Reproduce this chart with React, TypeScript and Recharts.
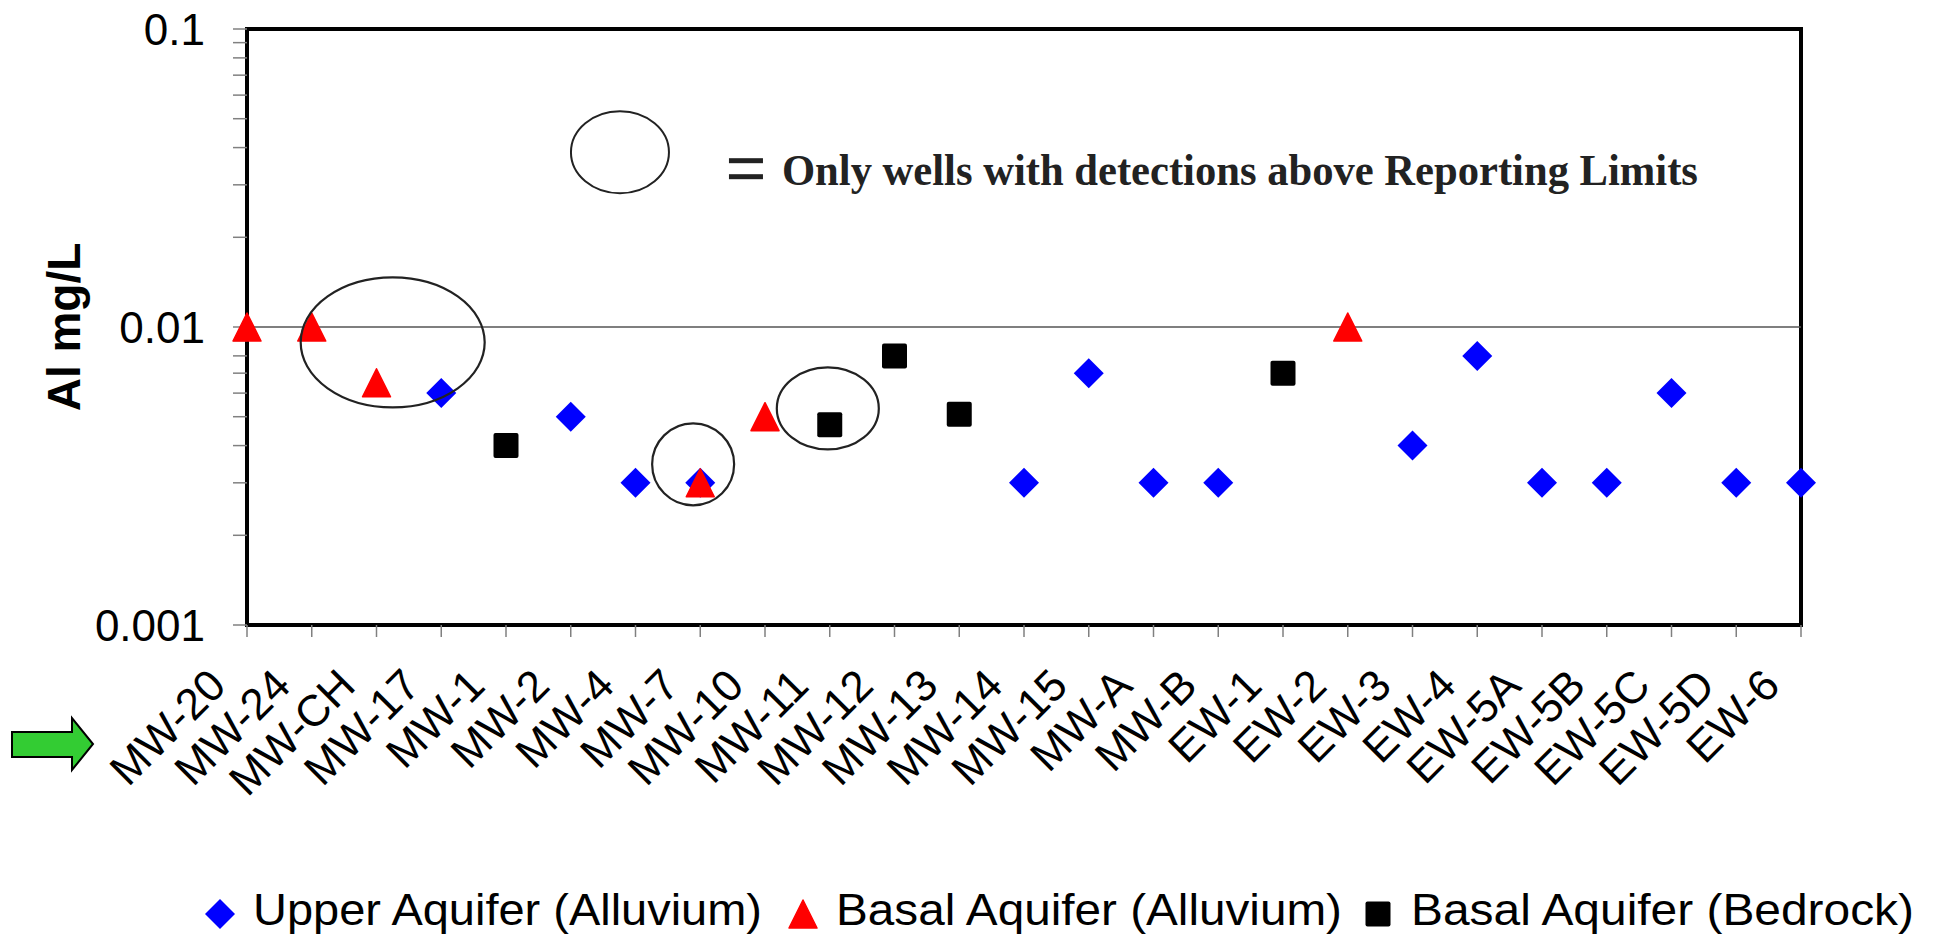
import React from "react";
import {
  ReferenceArea,
  ReferenceDot,
  ReferenceLine,
  Scatter,
  ScatterChart,
  XAxis,
  YAxis,
} from "recharts";

const WELLS = [
  "MW-20", "MW-24", "MW-CH", "MW-17", "MW-1", "MW-2", "MW-4", "MW-7", "MW-10",
  "MW-11", "MW-12", "MW-13", "MW-14", "MW-15", "MW-A", "MW-B", "EW-1", "EW-2",
  "EW-3", "EW-4", "EW-5A", "EW-5B", "EW-5C", "EW-5D", "EW-6",
];

const UPPER_WELLS = [
  "MW-17", "MW-2", "MW-4", "MW-7", "MW-14", "MW-15", "MW-A", "MW-B",
  "EW-3", "EW-4", "EW-5A", "EW-5B", "EW-5C", "EW-5D", "EW-6",
];
const UPPER_VALUES = [
  0.006, 0.005, 0.003, 0.003, 0.003, 0.007, 0.003, 0.003,
  0.004, 0.008, 0.003, 0.003, 0.006, 0.003, 0.003,
];

const BASAL_ALLUVIUM_WELLS = ["MW-20", "MW-24", "MW-CH", "MW-7", "MW-10", "EW-2"];
const BASAL_ALLUVIUM_VALUES = [0.01, 0.01, 0.0065, 0.003, 0.005, 0.01];

const BEDROCK_WELLS = ["MW-1", "MW-11", "MW-12", "MW-13", "EW-1"];
const BEDROCK_VALUES = [0.004, 0.0047, 0.008, 0.0051, 0.007];

const Y_MAJOR = [0.001, 0.01, 0.1];
const Y_TICKS = [
  0.001, 0.002, 0.003, 0.004, 0.005, 0.006, 0.007, 0.008, 0.009,
  0.01, 0.02, 0.03, 0.04, 0.05, 0.06, 0.07, 0.08, 0.09, 0.1,
];

// circled groups: [x (well index), y (mg/L), rx, ry]
const CIRCLES: [number, number, number, number][] = [
  [2.25, 0.00888, 92, 65],
  [6.89, 0.00346, 41, 41],
  [8.97, 0.00533, 51, 41],
];
const NOTE_CIRCLE: [number, number] = [5.76, 0.0386];
const NOTE_TEXT = "Only wells with detections above Reporting Limits";

const SANS = "'Liberation Sans', Arial, sans-serif";
const SERIF = "'Liberation Serif', 'Times New Roman', serif";

function toPoints(wells: string[], values: number[]) {
  return wells.map((w, i) => ({ idx: WELLS.indexOf(w), value: values[i], well: w }));
}

const upperData = toPoints(UPPER_WELLS, UPPER_VALUES);
const basalData = toPoints(BASAL_ALLUVIUM_WELLS, BASAL_ALLUVIUM_VALUES);
const bedrockData = toPoints(BEDROCK_WELLS, BEDROCK_VALUES);

function Diamond({ cx, cy }: any) {
  const h = 15;
  return <path d={`M${cx},${cy - h}L${cx + h},${cy}L${cx},${cy + h}L${cx - h},${cy}Z`} fill="#0000FF" />;
}

function Triangle({ cx, cy }: any) {
  const h = 14;
  return (
    <path
      d={`M${cx},${cy - h}L${cx + h},${cy + h}L${cx - h},${cy + h}Z`}
      fill="#FF0000"
      stroke="#FF0000"
      strokeWidth={1.5}
      strokeLinejoin="round"
    />
  );
}

function Square({ cx, cy }: any) {
  return <rect x={cx - 12.5} y={cy - 12.5} width={25} height={25} rx={2} fill="#000" />;
}

function XTick({ x, y, payload }: any) {
  return (
    <g transform={`translate(${x - 19},${y + 49})`}>
      <text transform="rotate(-45)" textAnchor="end" fontFamily={SANS} fontSize={44} fill="#000">
        {WELLS[payload.value]}
      </text>
    </g>
  );
}

function YTick({ x, y, payload }: any) {
  if (!Y_MAJOR.includes(payload.value)) return <g />;
  return (
    <text x={x} y={y} dy="0.36em" textAnchor="end" fontFamily={SANS} fontSize={44} fill="#000">
      {String(payload.value)}
    </text>
  );
}

function YLabel({ viewBox }: any) {
  const cy = viewBox.y + viewBox.height / 2;
  const bx = viewBox.x + 80;
  return (
    <text
      x={bx}
      y={cy}
      transform={`rotate(-90, ${bx}, ${cy})`}
      textAnchor="middle"
      fontFamily={SANS}
      fontWeight="bold"
      fontSize={46}
      fill="#000"
    >
      Al mg/L
    </text>
  );
}

function LegendMarker({ kind, cx, cy }: { kind: string; cx: number; cy: number }) {
  if (kind === "diamond") return <Diamond cx={cx} cy={cy} />;
  if (kind === "triangle") return <Triangle cx={cx} cy={cy} />;
  return <Square cx={cx} cy={cy} />;
}

const LEGEND = [
  { name: "Upper Aquifer (Alluvium)", kind: "diamond", mx: 220, tx: 253, w: 509 },
  { name: "Basal Aquifer (Alluvium)", kind: "triangle", mx: 803, tx: 836, w: 506 },
  { name: "Basal Aquifer (Bedrock)", kind: "square", mx: 1378, tx: 1411, w: 503 },
];

export default function App() {
  return (
    <div style={{ position: "absolute", left: 0, top: 0, width: 1936, height: 937, background: "#fff" }}>
      <ScatterChart width={1936} height={937} margin={{ top: 29, right: 135, bottom: 0, left: 0 }}>
        <XAxis
          type="number"
          dataKey="idx"
          domain={[0, 24]}
          ticks={WELLS.map((_, i) => i)}
          interval={0}
          height={312}
          axisLine={false}
          tickSize={12}
          tickLine={{ stroke: "#808080", strokeWidth: 1.5 }}
          tick={<XTick />}
        />
        <YAxis
          type="number"
          dataKey="value"
          scale="log"
          domain={[0.001, 0.1]}
          allowDataOverflow
          ticks={Y_TICKS}
          interval={0}
          width={247}
          axisLine={false}
          tickSize={14}
          tickMargin={28}
          tickLine={{ stroke: "#808080", strokeWidth: 1.5 }}
          tick={<YTick />}
          label={<YLabel />}
        />
        <ReferenceLine y={0.01} stroke="#555" strokeWidth={1.5} />
        <ReferenceArea x1={0} x2={24} y1={0.001} y2={0.1} fill="none" stroke="#000" strokeWidth={4} />
        <Scatter name="Upper Aquifer (Alluvium)" data={upperData} shape={<Diamond />} isAnimationActive={false} />
        <Scatter name="Basal Aquifer (Alluvium)" data={basalData} shape={<Triangle />} isAnimationActive={false} />
        <Scatter name="Basal Aquifer (Bedrock)" data={bedrockData} shape={<Square />} isAnimationActive={false} />
        {CIRCLES.map(([x, y, rx, ry], i) => (
          <ReferenceDot
            key={i}
            x={x}
            y={y}
            r={1}
            ifOverflow="visible"
            shape={(p: any) => (
              <ellipse cx={p.cx} cy={p.cy} rx={rx} ry={ry} fill="none" stroke="#222" strokeWidth={2.2} />
            )}
          />
        ))}
        <ReferenceDot
          x={NOTE_CIRCLE[0]}
          y={NOTE_CIRCLE[1]}
          r={1}
          ifOverflow="visible"
          shape={(p: any) => (
            <g>
              <ellipse cx={p.cx} cy={p.cy} rx={49} ry={41} fill="none" stroke="#222" strokeWidth={2} />
              <rect x={p.cx + 109} y={p.cy + 6} width={34} height={5} fill="#222" />
              <rect x={p.cx + 109} y={p.cy + 22} width={34} height={5} fill="#222" />
              <text
                x={p.cx + 162}
                y={p.cy + 33}
                fontFamily={SERIF}
                fontWeight="bold"
                fontSize={45}
                fill="#222"
                textLength={916}
                lengthAdjust="spacingAndGlyphs"
              >
                {NOTE_TEXT}
              </text>
            </g>
          )}
        />
      </ScatterChart>
      <svg
        width={1936}
        height={937}
        style={{ position: "absolute", left: 0, top: 0, pointerEvents: "none" }}
      >
        <path
          d="M12,732 L72,732 L72,718 L93,744 L72,770 L72,757 L12,757 Z"
          fill="#33CC33"
          stroke="#000"
          strokeWidth={2}
          strokeLinejoin="miter"
        />
        {LEGEND.map((item) => (
          <g key={item.name}>
            <LegendMarker kind={item.kind} cx={item.mx} cy={914} />
            <text
              x={item.tx}
              y={925}
              fontFamily={SANS}
              fontSize={45}
              fill="#000"
              textLength={item.w}
              lengthAdjust="spacingAndGlyphs"
            >
              {item.name}
            </text>
          </g>
        ))}
      </svg>
    </div>
  );
}
